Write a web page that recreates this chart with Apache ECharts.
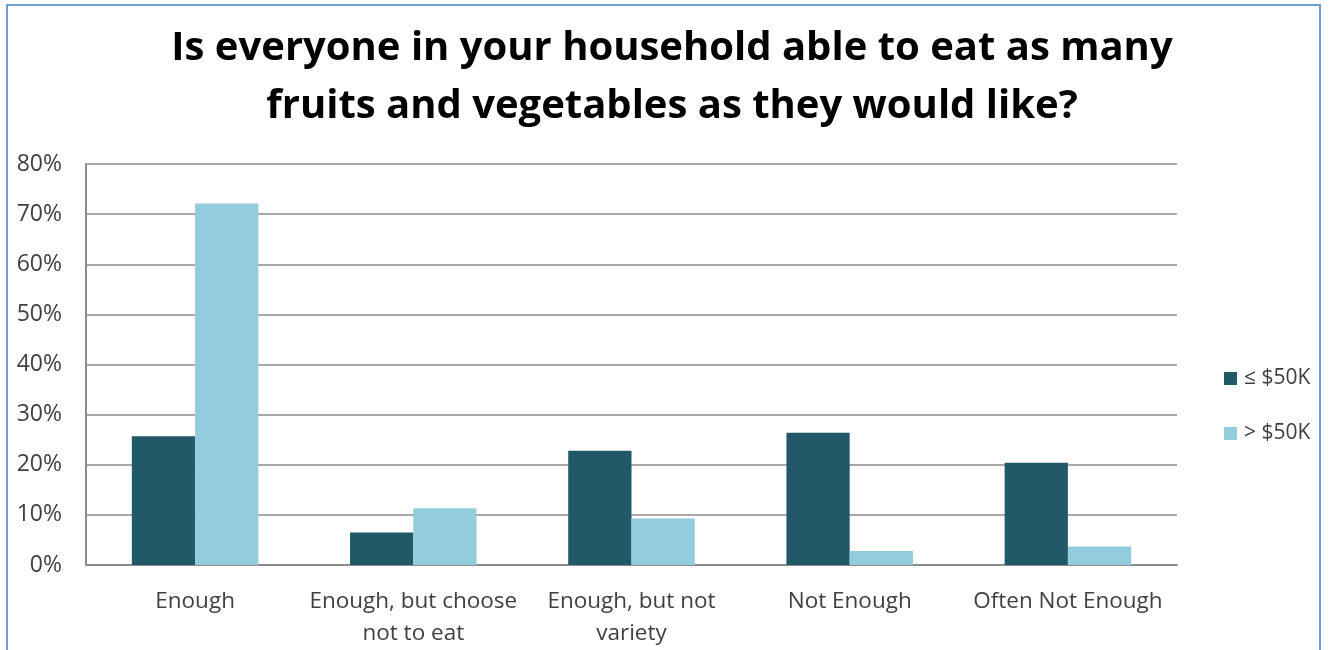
<!DOCTYPE html>
<html>
<head>
<meta charset="utf-8">
<script src="https://cdn.jsdelivr.net/npm/echarts@6/dist/echarts.min.js"></script>
<style>
html,body{margin:0;padding:0;background:#fff;}
#frame{position:absolute;left:6px;top:4px;width:1315px;height:660px;border:2px solid #6a9fd4;box-sizing:border-box;}
#chart{position:absolute;left:0;top:0;width:1333px;height:650px;}
</style>
</head>
<body>
<div id="frame"></div>
<div id="chart"></div>
<script>
const categories = ["Enough", "Enough, but choose\nnot to eat", "Enough, but not\nvariety", "Not Enough", "Often Not Enough"];
const seriesNames = ["\u2264 $50K", "> $50K"];
const lowIncome = [25.7, 6.5, 22.8, 26.4, 20.4];
const highIncome = [72.1, 11.3, 9.3, 2.8, 3.7];
const yTicks = [0, 10, 20, 30, 40, 50, 60, 70, 80];

const chart = echarts.init(document.getElementById('chart'));
chart.setOption({
  backgroundColor: 'transparent',
  animation: false,
  title: {
    text: 'Is everyone in your household able to eat as many\nfruits and vegetables as they would like?',
    left: 667, textAlign: 'center', top: 15,
    textStyle: { fontFamily: 'Open Sans', fontWeight: 'bold', fontSize: 40, lineHeight: 58, color: '#000' }
  },
  legend: {
    orient: 'vertical', left: 1219, top: 363,
    itemWidth: 13, itemHeight: 13, itemGap: 34,
    icon: 'rect',
    textStyle: { fontFamily: 'Open Sans', fontSize: 21, color: '#404040', padding: [0, 0, 0, 2] },
    data: seriesNames
  },
  grid: { left: 86, right: 156, top: 164, bottom: 85, containLabel: false },
  xAxis: {
    type: 'category', data: categories,
    axisLine: { lineStyle: { color: '#8c8c8c', width: 2 } },
    axisTick: { show: false },
    axisLabel: { fontFamily: 'Open Sans', fontSize: 22.5, color: '#404040', margin: 21, lineHeight: 32, interval: 0 }
  },
  yAxis: {
    type: 'value', min: 0, max: 80, interval: 10,
    axisLine: { show: true, lineStyle: { color: '#8c8c8c', width: 2 } },
    axisTick: { show: false },
    splitLine: { lineStyle: { color: '#8c8c8c', width: 1.5 } },
    axisLabel: { fontFamily: 'Open Sans', fontSize: 23, color: '#404040', margin: 24, formatter: v => yTicks.includes(v) ? v + '%' : '' }
  },
  series: [
    { name: seriesNames[0], type: 'bar', data: lowIncome, barGap: '0%', barCategoryGap: '42%', itemStyle: { color: '#215968' } },
    { name: seriesNames[1], type: 'bar', data: highIncome, barGap: '0%', barCategoryGap: '42%', itemStyle: { color: '#93cddd' } }
  ]
});
</script>
</body>
</html>
